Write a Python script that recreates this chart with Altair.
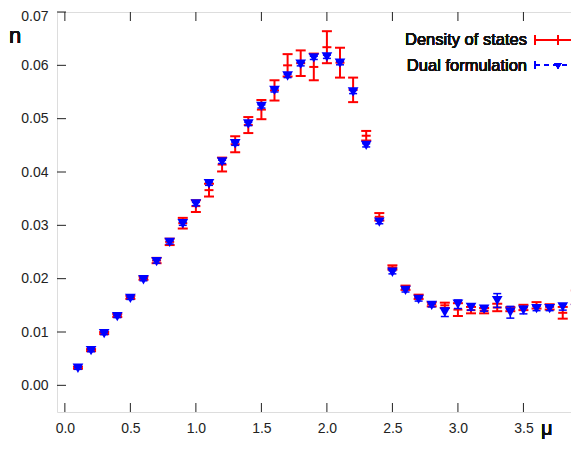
import altair as alt
import pandas as pd

mu = [0.1, 0.2, 0.3, 0.4, 0.5, 0.6, 0.7, 0.8, 0.9, 1.0,
      1.1, 1.2, 1.3, 1.4, 1.5, 1.6, 1.7, 1.8, 1.9, 2.0,
      2.1, 2.2, 2.3, 2.4, 2.5, 2.6, 2.7, 2.8, 2.9, 3.0,
      3.1, 3.2, 3.3, 3.4, 3.5, 3.6, 3.7, 3.8, 3.9]

dos = [0.0033, 0.0066, 0.0098, 0.0131, 0.0165, 0.0201, 0.0234, 0.0269, 0.0304, 0.0336,
       0.0366, 0.0414, 0.0452, 0.0488, 0.0517, 0.0553, 0.0600, 0.0604, 0.0597, 0.0634,
       0.0605, 0.0554, 0.0468, 0.0316, 0.0221, 0.0183, 0.0166, 0.0152, 0.0150, 0.0142,
       0.0141, 0.0140, 0.0146, 0.0143, 0.0146, 0.0150, 0.0147, 0.0136, 0.0165]
dos_err = [0.0002, 0.0002, 0.0002, 0.0003, 0.0003, 0.0003, 0.0005, 0.0006, 0.0010, 0.0011,
           0.0012, 0.0013, 0.0015, 0.0015, 0.0018, 0.0019, 0.0021, 0.0024, 0.0025, 0.0030,
           0.0028, 0.0023, 0.0009, 0.0007, 0.0004, 0.0004, 0.0004, 0.0004, 0.0005, 0.0012,
           0.0006, 0.0005, 0.0007, 0.0004, 0.0005, 0.0006, 0.0005, 0.0011, 0.0013]

dual = [0.0032, 0.0065, 0.0097, 0.0129, 0.0163, 0.0198, 0.0232, 0.0268, 0.0303, 0.0340,
        0.0378, 0.0419, 0.0453, 0.0490, 0.0523, 0.0553, 0.0580, 0.0602, 0.0614, 0.0616,
        0.0604, 0.0550, 0.0450, 0.0306, 0.0212, 0.0178, 0.0161, 0.0150, 0.0137, 0.0152,
        0.0146, 0.0143, 0.0159, 0.0137, 0.0141, 0.0144, 0.0144, 0.0147, 0.0144]
dual_err = [0.0002, 0.0002, 0.0002, 0.0002, 0.0002, 0.0002, 0.0003, 0.0003, 0.0003, 0.0003,
            0.0003, 0.0003, 0.0003, 0.0003, 0.0003, 0.0003, 0.0003, 0.0003, 0.0003, 0.0003,
            0.0003, 0.0003, 0.0003, 0.0003, 0.0003, 0.0003, 0.0003, 0.0003, 0.0008, 0.0008,
            0.0005, 0.0004, 0.0013, 0.0011, 0.0007, 0.0004, 0.0004, 0.0006, 0.0004]

xticks = [0.0, 0.5, 1.0, 1.5, 2.0, 2.5, 3.0, 3.5]
yticks = [0.00, 0.01, 0.02, 0.03, 0.04, 0.05, 0.06, 0.07]

df = pd.DataFrame({
    "mu": mu,
    "dos": dos,
    "dos_lo": [v - e for v, e in zip(dos, dos_err)],
    "dos_hi": [v + e for v, e in zip(dos, dos_err)],
    "dual": dual,
    "dual_lo": [v - e for v, e in zip(dual, dual_err)],
    "dual_hi": [v + e for v, e in zip(dual, dual_err)],
})
xt = pd.DataFrame({"v": xticks})
yt = pd.DataFrame({"v": yticks})

W, H = 525, 400
RED = "#ff0000"
BLUE = "#0000ff"
FONT = "Liberation Sans"

xscale = alt.Scale(domain=[-0.06, 3.947], nice=False, zero=False)
yscale = alt.Scale(domain=[-0.005, 0.07], nice=False, zero=False)
xaxis = alt.Axis(values=xticks, format=".1f", tickSize=0, domain=False, grid=False,
                 labelPadding=9, title=None, labelFontSize=14, labelColor="#222",
                 labelFont=FONT)
yaxis = alt.Axis(values=yticks, format=".2f", tickSize=0, domain=False, grid=False,
                 labelPadding=9, title=None, labelFontSize=14, labelColor="#222",
                 labelFont=FONT, labelFlush=True, labelFlushOffset=3)

def X(f):
    return alt.X(f, type="quantitative", scale=xscale, axis=xaxis)

def Y(f):
    return alt.Y(f, type="quantitative", scale=yscale, axis=yaxis)

base = alt.Chart(df)

red_bar = base.mark_rule(color=RED, strokeWidth=2).encode(x=X("mu"), y=Y("dos_lo"), y2="dos_hi")
red_lo = base.mark_tick(orient="horizontal", size=10, thickness=2, color=RED, opacity=1).encode(x=X("mu"), y=Y("dos_lo"))
red_hi = base.mark_tick(orient="horizontal", size=10, thickness=2, color=RED, opacity=1).encode(x=X("mu"), y=Y("dos_hi"))
red_c = base.mark_tick(orient="horizontal", size=9, thickness=2, color=RED, opacity=1).encode(x=X("mu"), y=Y("dos"))

blue_bar = base.mark_rule(color=BLUE, strokeWidth=1.5).encode(x=X("mu"), y=Y("dual_lo"), y2="dual_hi")
blue_lo = base.mark_tick(orient="horizontal", size=8, thickness=1.5, color=BLUE, opacity=1).encode(x=X("mu"), y=Y("dual_lo"))
blue_hi = base.mark_tick(orient="horizontal", size=8, thickness=1.5, color=BLUE, opacity=1).encode(x=X("mu"), y=Y("dual_hi"))
blue_pt = base.mark_point(shape="triangle-down", filled=True, size=115, color=BLUE, opacity=1).encode(x=X("mu"), y=Y("dual"))

# inward tick marks (gnuplot style)
tk = dict(color="#222", strokeWidth=1)
xb = alt.Chart(xt).mark_rule(**tk).encode(x=X("v"), y=alt.value(H), y2=alt.value(H - 9))
xtp = alt.Chart(xt).mark_rule(**tk).encode(x=X("v"), y=alt.value(0), y2=alt.value(9))
yl = alt.Chart(yt).mark_rule(**tk).encode(y=Y("v"), x=alt.value(0), x2=alt.value(9))
yr = alt.Chart(yt).mark_rule(**tk).encode(y=Y("v"), x=alt.value(W - 9), x2=alt.value(W))

# axis titles
n_lbl = alt.Chart(xt).mark_text(text="n", font=FONT, fontSize=22, color="#111", align="left", baseline="alphabetic").encode(
    x=alt.value(-48), y=alt.value(31))
mu_lbl = alt.Chart(xt).mark_text(text="μ", font=FONT, fontSize=20, color="#111", align="left", baseline="alphabetic").encode(
    x=alt.value(484), y=alt.value(423))

# legend
lg_font = dict(font=FONT, fontSize=16.5, color="#111", align="right", baseline="middle")
t1 = alt.Chart(xt).mark_text(text="Density of states", **lg_font).encode(x=alt.value(470), y=alt.value(28))
t2 = alt.Chart(xt).mark_text(text="Dual formulation", **lg_font).encode(x=alt.value(470), y=alt.value(54))
l1 = alt.Chart(xt).mark_rule(color=RED, strokeWidth=2).encode(x=alt.value(478), x2=alt.value(W), y=alt.value(28))
l1a = alt.Chart(xt).mark_rule(color=RED, strokeWidth=2).encode(x=alt.value(478), y=alt.value(23), y2=alt.value(33))
l1b = alt.Chart(xt).mark_rule(color=RED, strokeWidth=2).encode(x=alt.value(501), y=alt.value(23), y2=alt.value(33))
l2 = alt.Chart(xt).mark_rule(color=BLUE, strokeWidth=1.5, strokeDash=[5, 4]).encode(x=alt.value(478), x2=alt.value(W), y=alt.value(53))
l2a = alt.Chart(xt).mark_rule(color=BLUE, strokeWidth=1.5).encode(x=alt.value(478), y=alt.value(49), y2=alt.value(57))
l2p = alt.Chart(xt).mark_point(shape="triangle-down", filled=True, size=50, color=BLUE, opacity=1).encode(
    x=alt.value(501), y=alt.value(54))

chart = alt.layer(
    xb, xtp, yl, yr,
    red_bar, red_lo, red_hi, red_c,
    blue_bar, blue_lo, blue_hi, blue_pt,
    n_lbl, mu_lbl, t1, t2, l1, l1a, l1b, l2, l2a, l2p,
).properties(
    width=W, height=H,
    autosize=alt.AutoSizeParams(type="none"),
    padding={"left": 49, "top": 4, "right": -11, "bottom": 29},
).configure_view(
    stroke="#000", strokeWidth=1.5
).configure(background="white")

chart.save("out.html", embed_options={"renderer": "svg", "actions": False})
